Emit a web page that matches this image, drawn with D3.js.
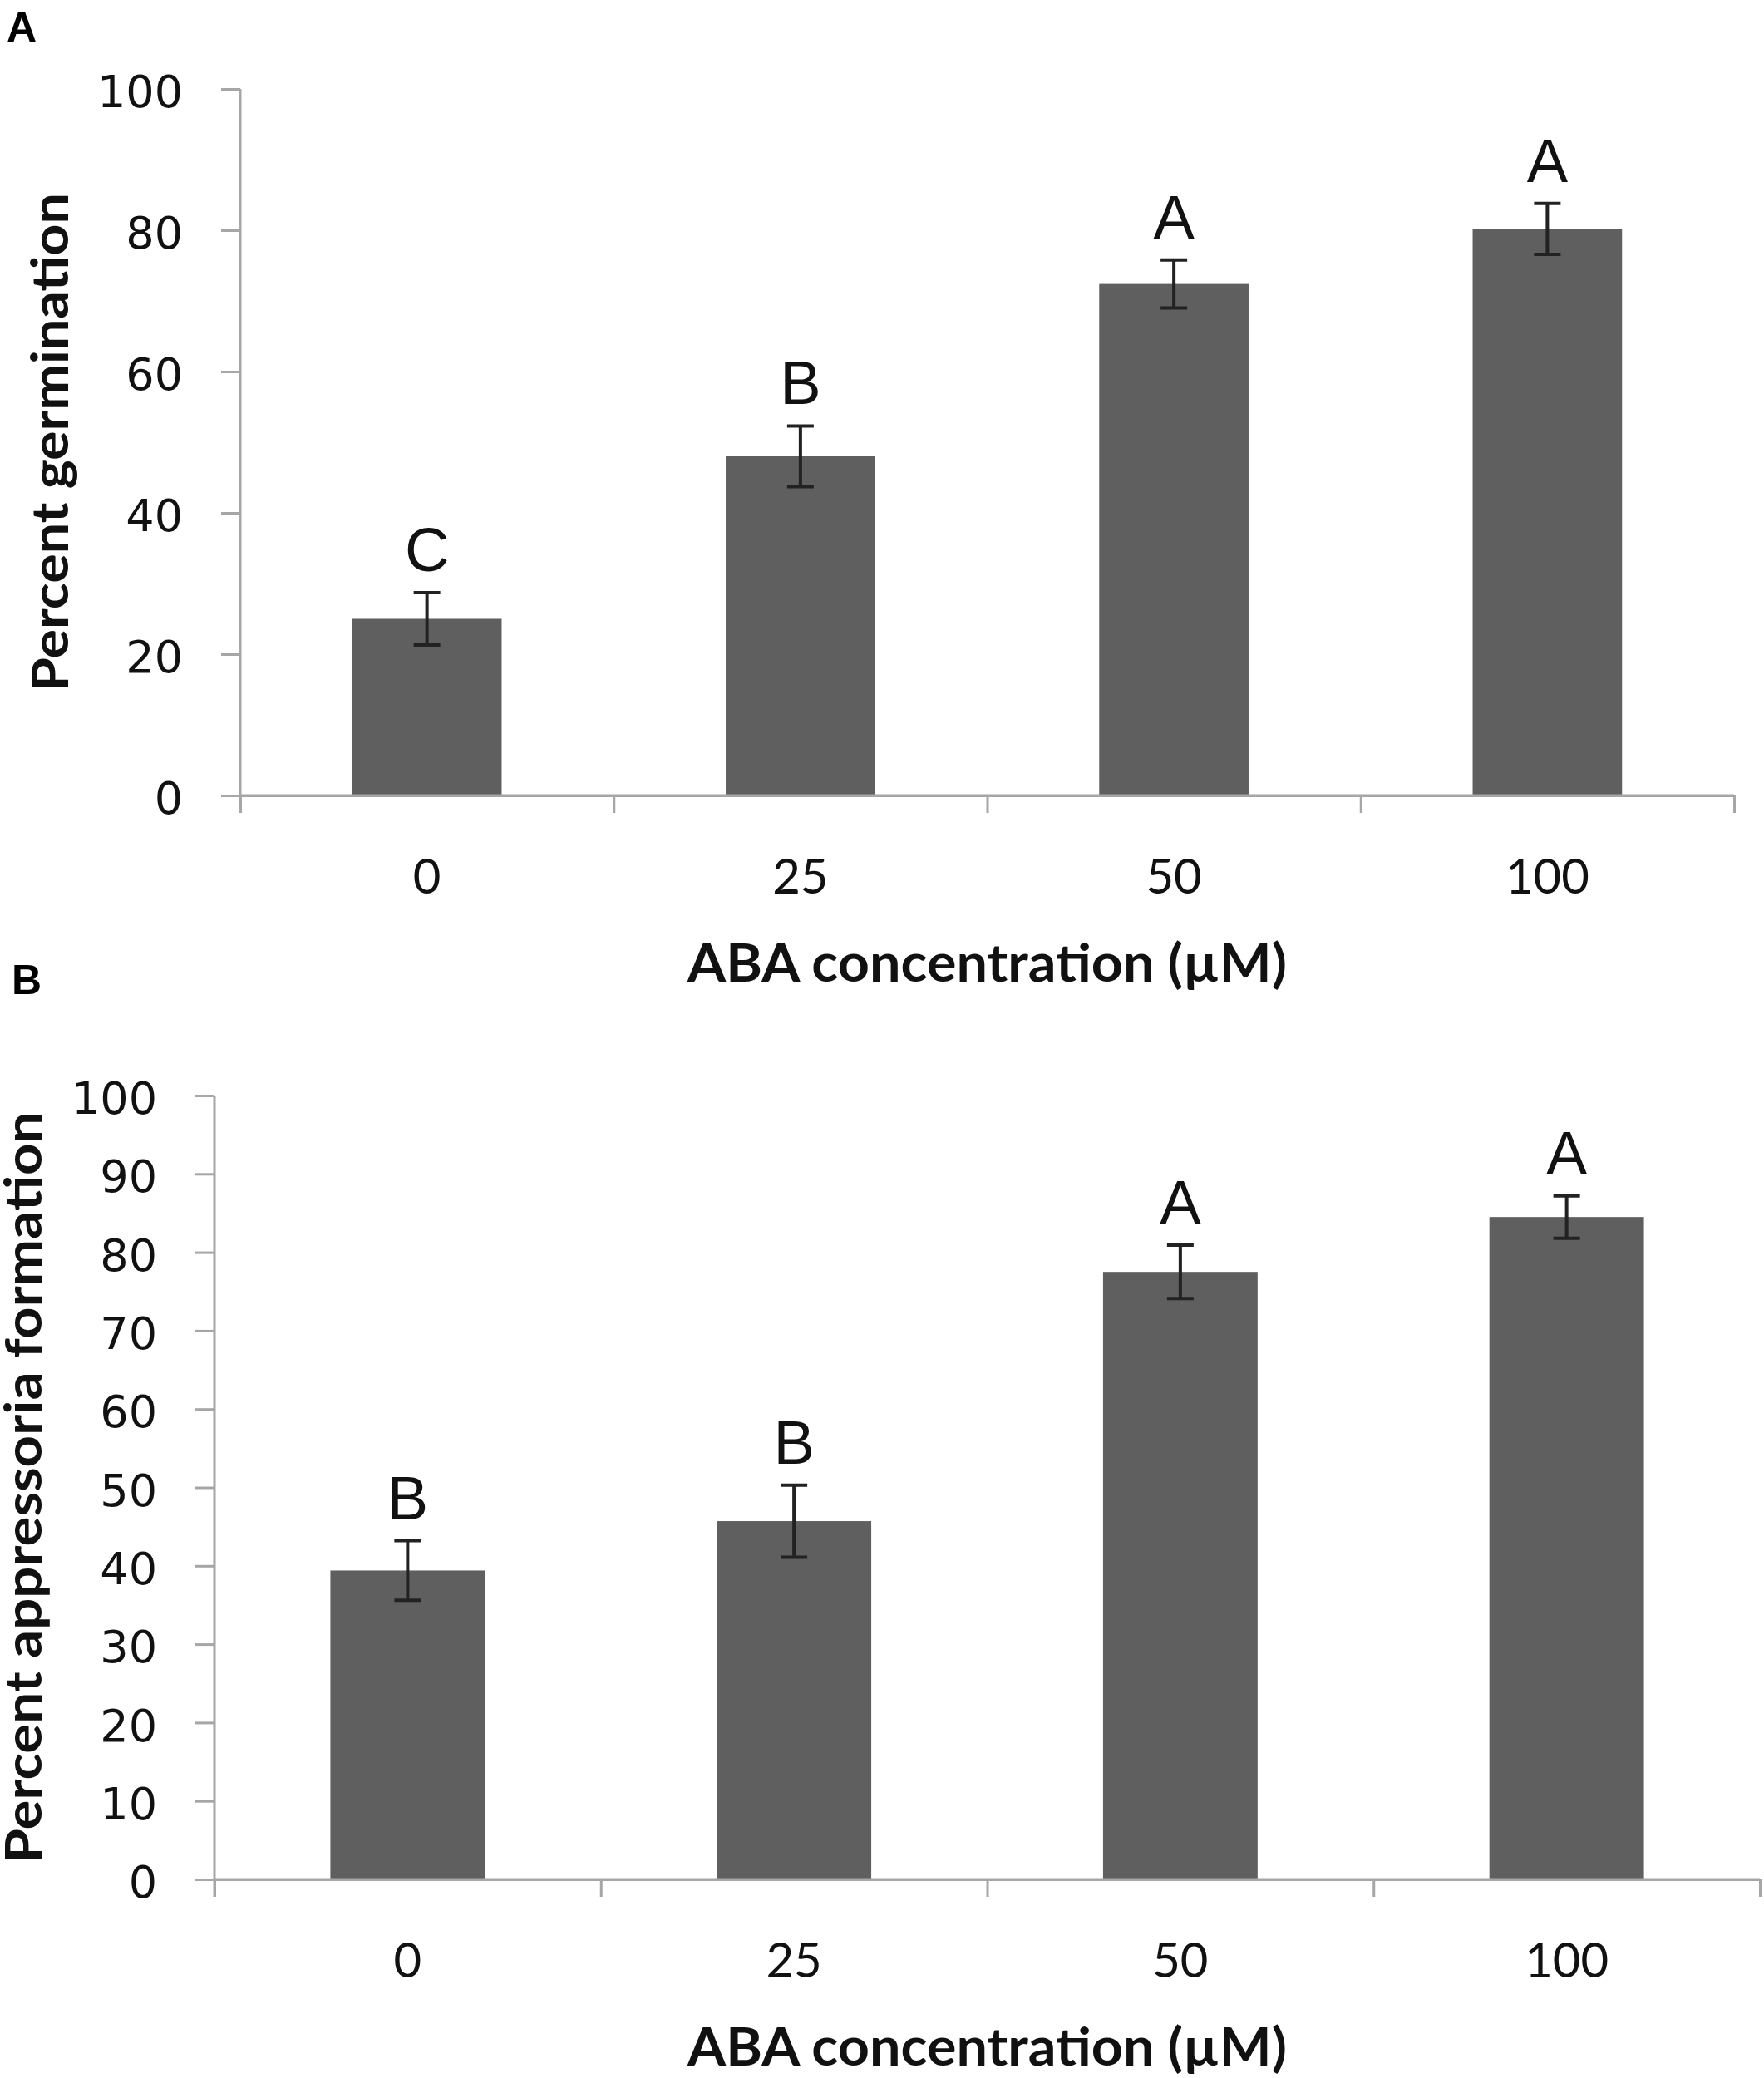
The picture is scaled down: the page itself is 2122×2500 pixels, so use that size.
<!DOCTYPE html>
<html>
<head>
<meta charset="utf-8">
<script src="https://cdn.jsdelivr.net/npm/d3@7"></script>
<style>
  body { margin: 0; background: #fff; }
</style>
</head>
<body>
<div id="chart-area"></div>
<script>
// DATA
const categories = ["0", "25", "50", "100"]

const germination = [25.0, 48.0, 72.4, 80.2]
const germinationErr = [3.7, 4.3, 3.4, 3.6]
const germinationLetters = ["C", "B", "A", "A"]
const germinationTicks = [0, 20, 40, 60, 80, 100]

const appressoria = [39.4, 45.7, 77.5, 84.5]
const appressoriaErr = [3.8, 4.6, 3.4, 2.7]
const appressoriaLetters = ["B", "B", "A", "A"]
const appressoriaTicks = [0, 10, 20, 30, 40, 50, 60, 70, 80, 90, 100]

const xTitle = "ABA concentration (\u00b5M)"

// PAGE
const AREA_WIDTH = 2122
const AREA_HEIGHT = 2500

const BAR_COLOR = "#5f5f5f"
const AXIS_COLOR = "#a6a6a6"
const ERR_COLOR = "#222222"

const svg = d3.select("#chart-area").append("svg")
	.attr("width", AREA_WIDTH)
	.attr("height", AREA_HEIGHT)

svg.append("rect")
	.attr("width", AREA_WIDTH)
	.attr("height", AREA_HEIGHT)
	.attr("fill", "#fff")

// one panel of the figure
function drawPanel(opt) {
	const g = svg.append("g")

	const x = d3.scaleBand()
		.domain(categories)
		.range([opt.left, opt.right])
		.paddingInner(0.6)
		.paddingOuter(0.3)

	// boundaries between categories, for the tick marks
	const xEdge = d3.scaleLinear()
		.domain([0, categories.length])
		.range([opt.left, opt.right])

	const y = d3.scaleLinear()
		.domain([0, 100])
		.range([opt.bottom, opt.top])

	// panel letter
	g.append("text")
		.attr("x", opt.tagX)
		.attr("y", opt.tagY)
		.attr("font-family", "Liberation Sans, Arial, sans-serif")
		.attr("font-weight", "bold")
		.attr("font-size", "50px")
		.attr("fill", "#000")
		.text(opt.tag)

	// y axis
	const yAxis = g.append("g")
		.attr("transform", `translate(${opt.left},0)`)
		.call(d3.axisLeft(y)
			.tickValues(opt.ticks)
			.tickSize(23)
			.tickSizeOuter(0)
			.tickPadding(46))
	yAxis.select(".domain").remove()
	yAxis.selectAll("line").attr("stroke", AXIS_COLOR).attr("stroke-width", 3)
	yAxis.selectAll("text")
		.attr("font-family", "DejaVu Sans, Verdana, sans-serif")
		.attr("font-size", "54px")
		.attr("fill", "#111")
		.attr("dy", "0.4em")

	// vertical axis line runs a little below zero like the tick marks
	g.append("line")
		.attr("x1", opt.left).attr("x2", opt.left)
		.attr("y1", opt.top).attr("y2", opt.bottom + 21)
		.attr("stroke", AXIS_COLOR)
		.attr("stroke-width", 3)

	// x axis tick marks at category boundaries
	const xTicks = g.append("g")
		.attr("transform", `translate(0,${opt.bottom})`)
		.call(d3.axisBottom(xEdge)
			.tickValues(d3.range(categories.length + 1))
			.tickFormat("")
			.tickSize(21)
			.tickSizeOuter(0))
	xTicks.select(".domain")
		.attr("stroke", AXIS_COLOR)
		.attr("stroke-width", 3)
	xTicks.selectAll("line").attr("stroke", AXIS_COLOR).attr("stroke-width", 3)

	// x axis category labels
	const xLabels = g.append("g")
		.attr("transform", `translate(0,${opt.bottom})`)
		.call(d3.axisBottom(x).tickSize(0).tickPadding(0))
	xLabels.select(".domain").remove()
	xLabels.selectAll("text")
		.attr("font-family", "Lato, Calibri, sans-serif")
		.attr("font-size", "58px")
		.attr("fill", "#111")
		.attr("dy", null)
		.attr("y", 118)

	// bars
	g.selectAll("rect.bar")
		.data(opt.values)
		.enter()
		.append("rect")
		.attr("class", "bar")
		.attr("x", (d, i) => x(categories[i]))
		.attr("width", x.bandwidth())
		.attr("y", d => y(d))
		.attr("height", d => y(0) - y(d))
		.attr("fill", BAR_COLOR)

	// x axis line drawn again over the bars
	g.append("line")
		.attr("x1", opt.left).attr("x2", opt.right)
		.attr("y1", opt.bottom).attr("y2", opt.bottom)
		.attr("stroke", AXIS_COLOR)
		.attr("stroke-width", 3)

	// error bars
	const cap = 16
	const err = g.selectAll("g.err")
		.data(opt.values)
		.enter()
		.append("g")
		.attr("class", "err")
		.attr("stroke", ERR_COLOR)
		.attr("stroke-width", 4)

	err.append("line")
		.attr("x1", (d, i) => x(categories[i]) + x.bandwidth() / 2)
		.attr("x2", (d, i) => x(categories[i]) + x.bandwidth() / 2)
		.attr("y1", (d, i) => y(d + opt.errors[i]))
		.attr("y2", (d, i) => y(d - opt.errors[i]))
	err.append("line")
		.attr("x1", (d, i) => x(categories[i]) + x.bandwidth() / 2 - cap)
		.attr("x2", (d, i) => x(categories[i]) + x.bandwidth() / 2 + cap)
		.attr("y1", (d, i) => y(d + opt.errors[i]))
		.attr("y2", (d, i) => y(d + opt.errors[i]))
	err.append("line")
		.attr("x1", (d, i) => x(categories[i]) + x.bandwidth() / 2 - cap)
		.attr("x2", (d, i) => x(categories[i]) + x.bandwidth() / 2 + cap)
		.attr("y1", (d, i) => y(d - opt.errors[i]))
		.attr("y2", (d, i) => y(d - opt.errors[i]))

	// significance letters
	g.selectAll("text.letter")
		.data(opt.letters)
		.enter()
		.append("text")
		.attr("class", "letter")
		.attr("x", (d, i) => x(categories[i]) + x.bandwidth() / 2)
		.attr("y", (d, i) => y(opt.values[i] + opt.errors[i]) - 26)
		.attr("text-anchor", "middle")
		.attr("font-family", "Liberation Sans, Arial, sans-serif")
		.attr("font-size", "74px")
		.attr("fill", "#111")
		.text(d => d)

	// axis titles
	g.append("text")
		.attr("x", (opt.left + opt.right) / 2)
		.attr("y", opt.bottom + 224)
		.attr("text-anchor", "middle")
		.attr("font-family", "Lato, Calibri, sans-serif")
		.attr("font-weight", "bold")
		.attr("font-size", "64px")
		.attr("textLength", 721)
		.attr("lengthAdjust", "spacingAndGlyphs")
		.attr("fill", "#111")
		.text(xTitle)

	g.append("text")
		.attr("transform", `translate(${opt.yTitleX},${(opt.top + opt.bottom) / 2}) rotate(-90)`)
		.attr("text-anchor", "middle")
		.attr("font-family", "Lato, Calibri, sans-serif")
		.attr("font-weight", "bold")
		.attr("font-size", "62px")
		.attr("textLength", opt.yTitleLength)
		.attr("lengthAdjust", "spacingAndGlyphs")
		.attr("fill", "#111")
		.text(opt.yTitle)
}

drawPanel({
	tag: "A", tagX: 8, tagY: 50,
	left: 289, right: 2086, top: 107, bottom: 957,
	values: germination, errors: germinationErr, letters: germinationLetters,
	ticks: germinationTicks,
	yTitle: "Percent germination", yTitleX: 82, yTitleLength: 600
})

drawPanel({
	tag: "B", tagX: 14, tagY: 1196,
	left: 258, right: 2117, top: 1318, bottom: 2261,
	values: appressoria, errors: appressoriaErr, letters: appressoriaLetters,
	ticks: appressoriaTicks,
	yTitle: "Percent appressoria formation", yTitleX: 50, yTitleLength: 904
})
</script>
</body>
</html>
